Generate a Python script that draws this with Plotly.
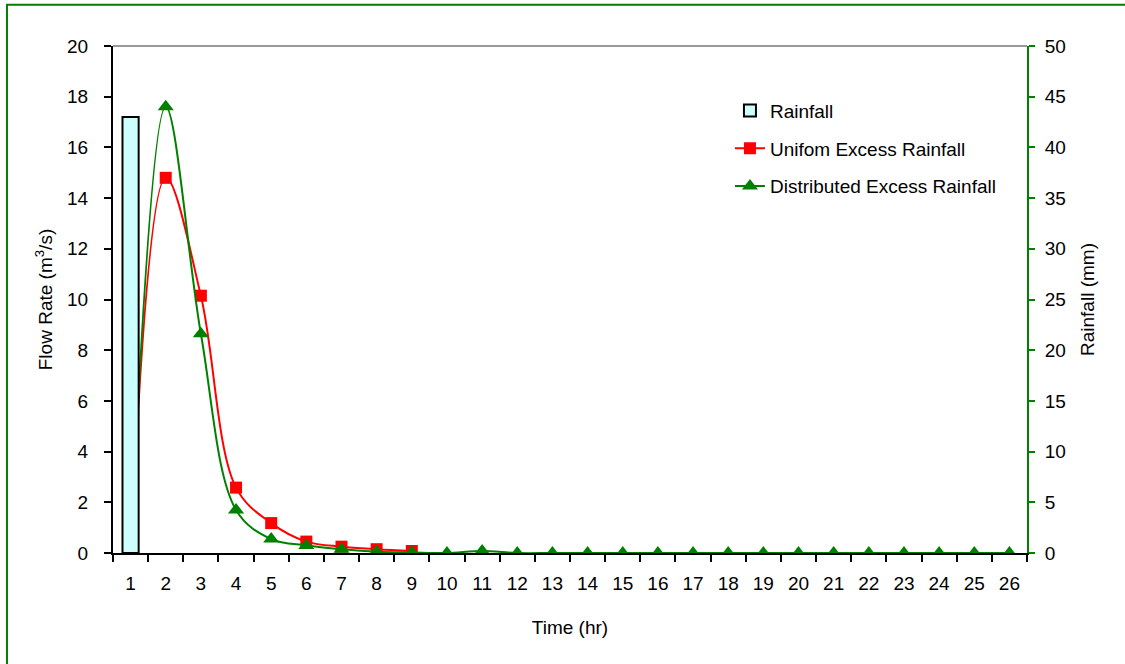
import plotly.graph_objects as go

# Time steps (hr)
hours = [str(h) for h in range(1, 27)]

# Rainfall depth (mm), only the first hour has rain
rain_hours = ["1"]
rain_mm = [43.0]

# Hydrograph from uniform excess rainfall (m3/s), hours 1-9
uniform_hours = hours[:9]
uniform_flow = [0.05, 14.8, 10.15, 2.58, 1.18, 0.45, 0.25, 0.15, 0.08]

# Hydrograph from distributed excess rainfall (m3/s), hours 1-26
distributed_flow = [0.0, 17.6, 8.65, 1.7, 0.55, 0.3, 0.15, 0.05, 0.02,
                    0.0, 0.08, 0.0, 0.0, 0.0, 0.0, 0.0, 0.0, 0.0,
                    0.0, 0.0, 0.0, 0.0, 0.0, 0.0, 0.0, 0.0]

FONT = "Liberation Sans, Arial, sans-serif"

fig = go.Figure()

fig.add_trace(go.Bar(
    x=rain_hours, y=rain_mm, name="Rainfall", yaxis="y2", width=0.46,
    marker=dict(color="#CCFFFF", line=dict(color="black", width=2)),
    legendgroup="a",
))

fig.add_trace(go.Scatter(
    x=uniform_hours, y=uniform_flow, name="Unifom Excess Rainfall",
    mode="lines+markers",
    line=dict(color="#FF0000", width=2, shape="spline", smoothing=1.0),
    marker=dict(symbol="square", size=12, color="#FF0000"),
    legendgroup="b",
))

fig.add_trace(go.Scatter(
    x=hours, y=distributed_flow, name="Distributed Excess Rainfall",
    mode="lines+markers",
    line=dict(color="#008000", width=2, shape="spline", smoothing=1.0),
    marker=dict(symbol="triangle-up", size=14, color="#008000"),
    legendgroup="c",
))

axis_font = dict(family=FONT, size=19, color="black")

fig.update_layout(
    width=1125, height=664,
    margin=dict(l=113, r=98, t=46, b=111),
    paper_bgcolor="white", plot_bgcolor="white",
    font=dict(family=FONT, size=19, color="black"),
    showlegend=True,
    legend=dict(
        x=0.675, y=0.91, xanchor="left", yanchor="top",
        font=dict(family=FONT, size=19, color="black"),
        bgcolor="rgba(0,0,0,0)", traceorder="grouped", tracegroupgap=10,
    ),
    xaxis=dict(
        type="category", categoryorder="array", categoryarray=hours,
        range=[-0.5, 25.5],
        title=dict(text="Time (hr)", font=axis_font, standoff=28),
        tickfont=axis_font, ticklabelstandoff=12,
        showline=True, linecolor="black", linewidth=2,
        ticks="outside", tickson="boundaries", ticklen=7, tickwidth=2,
        tickcolor="black", showgrid=False, zeroline=False,
    ),
    yaxis=dict(
        range=[0, 20], dtick=2,
        title=dict(text="Flow Rate (m<sup>3</sup>/s)", font=axis_font, standoff=9),
        tickfont=axis_font, ticklabelstandoff=12,
        showline=True, linecolor="black", linewidth=2,
        ticks="outside", ticklen=7, tickwidth=2, tickcolor="black",
        showgrid=False, zeroline=False,
    ),
    yaxis2=dict(
        range=[0, 50], dtick=5, overlaying="y", side="right",
        title=dict(text="Rainfall (mm)", font=axis_font, standoff=16),
        tickfont=axis_font, ticklabelstandoff=6,
        showline=True, linecolor="#008000", linewidth=2,
        ticks="outside", ticklen=6, tickwidth=2, tickcolor="#008000",
        showgrid=False, zeroline=False,
    ),
    shapes=[
        # top edge of the plot area
        dict(type="line", xref="paper", yref="paper", x0=0, x1=1, y0=1, y1=1,
             line=dict(color="#9a9a9a", width=2)),
        # green frame round the chart
        dict(type="rect", xref="paper", yref="paper",
             x0=-0.116, x1=1.3, y0=-0.4, y1=1.0815,
             line=dict(color="#008000", width=2), layer="below"),
    ],
)

fig.write_html("out.html")
